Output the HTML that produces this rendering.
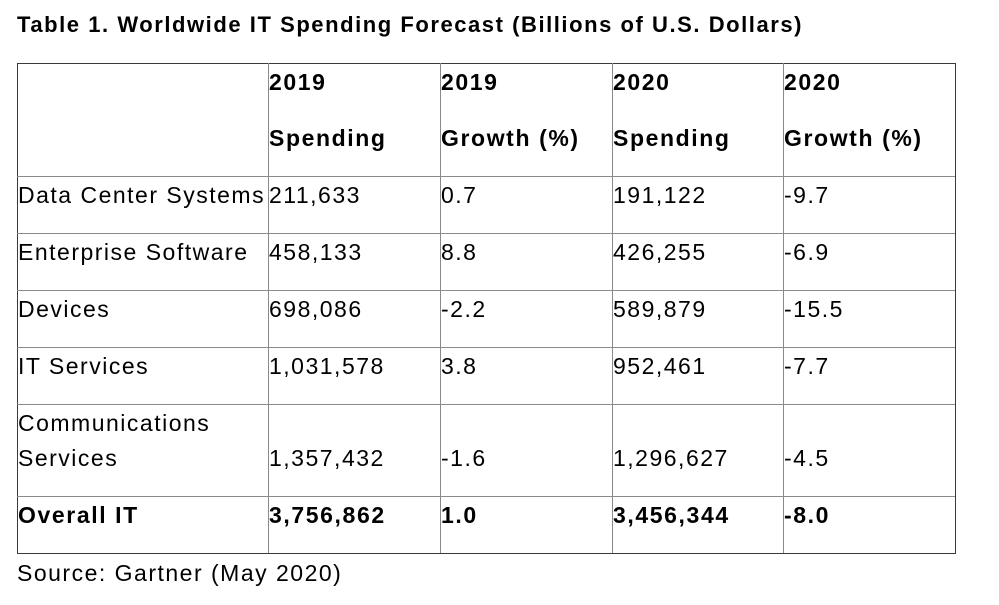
<!DOCTYPE html>
<html><head><meta charset="utf-8"><style>
body{margin:0;background:#fff;width:999px;height:605px;position:relative;overflow:hidden;font-family:"Liberation Sans",sans-serif;color:#000}
.t{position:absolute;white-space:nowrap;font-size:23px;line-height:26px;letter-spacing:1.5px}
.b{font-weight:bold;letter-spacing:1.6px}
.h{position:absolute;height:1px;background:#8a8a8a}
.v{position:absolute;width:1px;background:#8a8a8a}
#frame{position:absolute;left:17px;top:63px;width:937px;height:489px;border:1px solid #3a3a3a}
</style></head><body>
<div class="t b" style="left:17px;top:12px;font-size:22px;letter-spacing:1.55px">Table 1. Worldwide IT Spending Forecast (Billions of U.S. Dollars)</div>
<div id="frame"></div>
<div class="v" style="left:268px;top:63px;height:490px"></div>
<div class="v" style="left:440px;top:63px;height:490px"></div>
<div class="v" style="left:612px;top:63px;height:490px"></div>
<div class="v" style="left:783px;top:63px;height:490px"></div>
<div class="h" style="left:17px;top:176px;width:938px"></div>
<div class="h" style="left:17px;top:233px;width:938px"></div>
<div class="h" style="left:17px;top:290px;width:938px"></div>
<div class="h" style="left:17px;top:347px;width:938px"></div>
<div class="h" style="left:17px;top:404px;width:938px"></div>
<div class="h" style="left:17px;top:496px;width:938px"></div>

<div class="t b" style="left:269px;top:69px">2019</div>
<div class="t b" style="left:269px;top:125px">Spending</div>
<div class="t b" style="left:441px;top:69px">2019</div>
<div class="t b" style="left:441px;top:125px">Growth (%)</div>
<div class="t b" style="left:613px;top:69px">2020</div>
<div class="t b" style="left:613px;top:125px">Spending</div>
<div class="t b" style="left:784px;top:69px">2020</div>
<div class="t b" style="left:784px;top:125px">Growth (%)</div>

<div class="t" style="left:18px;top:182px">Data Center Systems</div>
<div class="t" style="left:269px;top:182px">211,633</div>
<div class="t" style="left:441px;top:182px">0.7</div>
<div class="t" style="left:613px;top:182px">191,122</div>
<div class="t" style="left:784px;top:182px">-9.7</div>

<div class="t" style="left:18px;top:239px">Enterprise Software</div>
<div class="t" style="left:269px;top:239px">458,133</div>
<div class="t" style="left:441px;top:239px">8.8</div>
<div class="t" style="left:613px;top:239px">426,255</div>
<div class="t" style="left:784px;top:239px">-6.9</div>

<div class="t" style="left:18px;top:296px">Devices</div>
<div class="t" style="left:269px;top:296px">698,086</div>
<div class="t" style="left:441px;top:296px">-2.2</div>
<div class="t" style="left:613px;top:296px">589,879</div>
<div class="t" style="left:784px;top:296px">-15.5</div>

<div class="t" style="left:18px;top:353px">IT Services</div>
<div class="t" style="left:269px;top:353px">1,031,578</div>
<div class="t" style="left:441px;top:353px">3.8</div>
<div class="t" style="left:613px;top:353px">952,461</div>
<div class="t" style="left:784px;top:353px">-7.7</div>

<div class="t" style="left:18px;top:410px">Communications</div>
<div class="t" style="left:18px;top:445px">Services</div>
<div class="t" style="left:269px;top:445px">1,357,432</div>
<div class="t" style="left:441px;top:445px">-1.6</div>
<div class="t" style="left:613px;top:445px">1,296,627</div>
<div class="t" style="left:784px;top:445px">-4.5</div>

<div class="t b" style="left:18px;top:502px">Overall IT</div>
<div class="t b" style="left:269px;top:502px">3,756,862</div>
<div class="t b" style="left:441px;top:502px">1.0</div>
<div class="t b" style="left:613px;top:502px">3,456,344</div>
<div class="t b" style="left:784px;top:502px">-8.0</div>

<div class="t" style="left:17px;top:560px">Source: Gartner (May 2020)</div>
</body></html>
